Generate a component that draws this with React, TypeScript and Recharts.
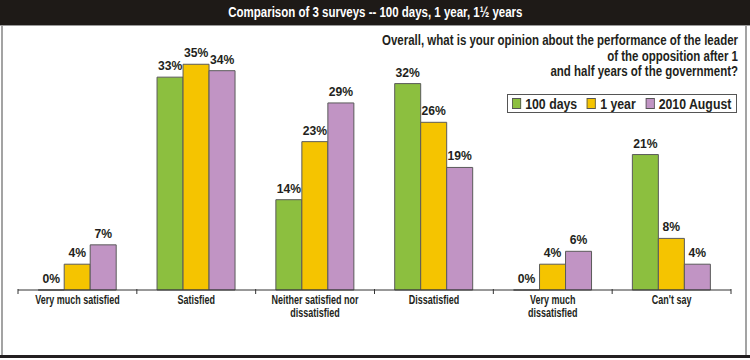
import * as React from 'react';
import { BarChart, Bar, XAxis, YAxis, LabelList } from 'recharts';

// categories, with manual line breaks where the original wraps
const categories = [
  'Very much satisfied',
  'Satisfied',
  'Neither satisfied nor\ndissatisfied',
  'Dissatisfied',
  'Very much\ndissatisfied',
  "Can't say",
];

const days100 = [0, 33, 14, 32, 0, 21];
const year1 = [4, 35, 23, 26, 4, 8];
const august2010 = [7, 34, 29, 19, 6, 4];

const seriesKeys = ['d100', 'y1', 'aug'];
const seriesNames = ['100 days', '1 year', '2010 August'];
const seriesColors = ['#8cbf3f', '#f5c400', '#c194c4'];

const data = categories.map((name, i) => ({
  name,
  d100: days100[i],
  y1: year1[i],
  aug: august2010[i],
}));

const FONT = '"Liberation Sans", Arial, sans-serif';
const SQUEEZE = 0.82;
const BAND = 713 / 6;

function CategoryTick(props: any) {
  const { x, y, payload, index } = props;
  const half = BAND / 2;
  const lines = String(payload.value).split('\n');
  return (
    <g>
      <line x1={x - half} y1={y - 1} x2={x - half} y2={y + 4} stroke="#333" />
      {index === categories.length - 1 && (
        <line x1={x + half} y1={y - 1} x2={x + half} y2={y + 4} stroke="#333" />
      )}
      <g transform={`translate(${x},${y + 14}) scale(0.75,1)`}>
        <text x={0} y={0} textAnchor="middle" fill="#231f20" fontSize={12} fontWeight="bold" fontFamily={FONT}>
          {lines.map((l, k) => (
            <tspan key={k} x={0} dy={k === 0 ? 0 : 13.5}>{l}</tspan>
          ))}
        </text>
      </g>
    </g>
  );
}

function PercentLabel(props: any) {
  const { x, y, width, value } = props;
  const cx = Number(x) + Number(width) / 2;
  return (
    <g transform={`translate(${cx},${Number(y) - 7}) scale(0.9,1)`}>
      <text x={0} y={0} textAnchor="middle" fill="#231f20" fontSize={13.5} fontWeight="bold" fontFamily={FONT}>
        {`${value}%`}
      </text>
    </g>
  );
}

export default function App() {
  return (
    <div style={{ position: 'absolute', left: 0, top: 0, width: 750, height: 360, background: '#fff', overflow: 'hidden' }}>
      <BarChart
        width={750}
        height={360}
        data={data}
        margin={{ top: 32, right: 19, left: 18, bottom: 10 }}
        barCategoryGap="17%"
        barGap={0}
      >
        <XAxis
          dataKey="name"
          interval={0}
          height={60}
          axisLine={{ stroke: '#333' }}
          tickLine={false}
          tickSize={0}
          tickMargin={0}
          tick={<CategoryTick />}
        />
        <YAxis hide domain={[0, 40]} />
        {seriesKeys.map((key, i) => (
          <Bar
            key={key}
            dataKey={key}
            name={seriesNames[i]}
            fill={seriesColors[i]}
            stroke="#5a5a5a"
            strokeWidth={1}
            minPointSize={(v: number) => (v === 0 ? 0.01 : 0)}
            isAnimationActive={false}
          >
            <LabelList dataKey={key} content={<PercentLabel />} />
          </Bar>
        ))}
      </BarChart>

      {/* title bar */}
      <div
        style={{
          position: 'absolute', left: 0, top: 0, width: 750, height: 25,
          background: '#1e1a17', borderBottom: '1px solid #9a9a9a',
          color: '#fff', fontFamily: FONT, fontWeight: 'bold', fontSize: 14,
          lineHeight: '25px', textAlign: 'center',
        }}
      >
        <span style={{ display: 'inline-block', transform: `scaleX(${SQUEEZE})` }}>
          Comparison of 3 surveys -- 100 days, 1 year, 1½ years
        </span>
      </div>

      {/* side and bottom frame */}
      <div style={{ position: 'absolute', left: 1, top: 26, width: 2, height: 330, background: '#a3a3a3' }} />
      <div style={{ position: 'absolute', left: 745, top: 26, width: 2, height: 330, background: '#a3a3a3' }} />
      <div style={{ position: 'absolute', left: 0, top: 355, width: 750, height: 3, background: '#231f20' }} />

      {/* question */}
      <div
        style={{
          position: 'absolute', left: 238, top: 33, width: 500,
          textAlign: 'right', fontFamily: FONT, fontWeight: 'bold', fontSize: 14,
          lineHeight: '15.5px', color: '#231f20',
          transform: `scaleX(${SQUEEZE})`, transformOrigin: 'right top',
        }}
      >
        Overall, what is your opinion about the performance of the leader<br />
        of the opposition after 1<br />
        and half years of the government?
      </div>

      {/* legend */}
      <div
        style={{
          position: 'absolute', left: 507, top: 94, width: 230, height: 19,
          border: '1px solid #555', boxSizing: 'border-box', background: '#fff',
          display: 'flex', alignItems: 'center', justifyContent: 'center',
          fontFamily: FONT, fontWeight: 'bold', fontSize: 15, color: '#231f20',
        }}
      >
        <div style={{ display: 'flex', alignItems: 'center', transform: `scaleX(${SQUEEZE})`, whiteSpace: 'nowrap' }}>
          {seriesNames.map((n, i) => (
            <span key={n} style={{ display: 'flex', alignItems: 'center', marginLeft: i ? 12 : 0 }}>
              <span style={{ width: 9, height: 9, background: seriesColors[i], border: '1px solid #555', marginRight: 5 }} />
              {n}
            </span>
          ))}
        </div>
      </div>
    </div>
  );
}
